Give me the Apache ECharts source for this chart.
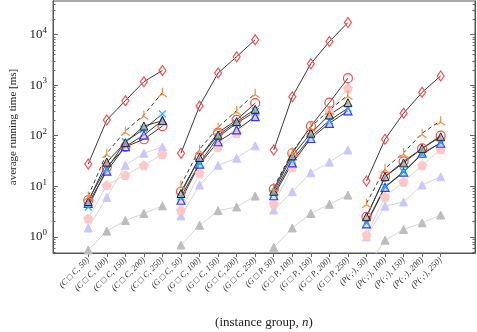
<!DOCTYPE html>
<html>
<head>
<meta charset="utf-8">
<script src="https://cdn.jsdelivr.net/npm/echarts@6/dist/echarts.min.js"></script>
<style>
  html, body { margin: 0; padding: 0; background: #fff; }
  #chart { width: 477px; height: 332px; }
</style>
</head>
<body>
<div id="chart"></div>
<script>
// instance groups and sizes -> 20 categories, 4 groups of 5
const groups = ['C \u25A1 C', 'G \u25A1 C', 'G \u25A1 P', 'P(\u00B7,\u00B7)']
const sizes = [50, 100, 150, 200, 250]
const categories = []
groups.forEach(g => sizes.forEach(n => categories.push('(' + g + ', ' + n + ')')))

// running times [ms], per method, 20 values (group by group)
const redDiamond = [27.5, 204, 493, 1170, 1950, 45, 388, 1730, 3650, 7900, 52, 590, 2650, 7250, 17300, 12.7, 85, 278, 720, 1520]
const orangeStar = [6.4, 45, 124, 257, 712, 10.6, 54, 147, 314, 690, 9.5, 48, 150, 320, 640, 4.6, 22.6, 46, 112, 198]
const blackTri = [5, 30, 73, 155, 198, 7.2, 37, 103, 190, 333, 8, 40, 112, 257, 450, 2.5, 15.5, 29, 56, 95]
const cyanCross = [3.9, 22, 76, 135, 270, 6.2, 28.5, 95, 176, 299, 7.2, 33, 95, 200, 350, 1.9, 9.8, 19.4, 43, 73]
const blueTri = [4.6, 20, 61, 103, 200, 5.3, 27.5, 76, 130, 238, 6.5, 29, 88, 176, 310, 1.8, 9.5, 19, 45, 71]
const redCircle = [5.3, 24, 60, 85, 155, 7.8, 37, 115, 205, 440, 8.8, 45, 155, 450, 1370, 2.5, 15.5, 31, 56, 100]
const pinkPenta = [2.3, 10.5, 16.6, 26, 43, 3.4, 18, 60, 112, 257, 4.5, 23.7, 100, 300, 870, 1.1, 6.2, 12.3, 26, 54]
const lilacTri = [1.5, 6.0, 26, 45, 60, 2.6, 10.6, 26, 36, 63, 3.4, 7.8, 18.5, 30, 52, 1.0, 4.05, 4.9, 10.6, 15.4]
const grayTri = [0.55, 1.3, 2.1, 2.9, 4.1, 0.69, 1.7, 3.3, 3.9, 6.4, 0.62, 1.5, 2.9, 4.4, 6.7, 0.25, 0.86, 1.4, 1.9, 2.7]

const majorTicks = [1, 10, 100, 1000, 10000]
const minorTicks = []
for (let d = -1; d <= 4; d++) {
  for (let k = 2; k <= 9; k++) {
    const v = k * Math.pow(10, d)
    if (v >= 0.48 && v <= 46000) minorTicks.push(v)
  }
}

const serif = 'Liberation Serif'
const darkLine = '#3a3a3a'
const lightLine = '#d6d6d6'

// break the line between groups
function toData (vals) {
  const out = []
  vals.forEach((v, i) => {
    out.push([i, v])
    if (i % 5 === 4 && i < vals.length - 1) out.push([i + 0.5, '-'])
  })
  return out
}

function mk (name, vals, symbol, size, fill, stroke, lineColor, dashed, bw) {
  return {
    name: name,
    type: 'line',
    data: toData(vals),
    symbol: symbol,
    symbolSize: size,
    showAllSymbol: true,
    connectNulls: false,
    itemStyle: { color: fill, borderColor: stroke, borderWidth: bw || 1 },
    lineStyle: { color: lineColor, width: 1, type: dashed ? [4, 3] : 'solid' },
    emphasis: { disabled: true }
  }
}

const pentagon = 'path://M0,-10 L9.51,-3.09 L5.88,8.09 L-5.88,8.09 L-9.51,-3.09 Z'
const triStar = 'path://M0,0 L0,-10 M0,0 L8.66,5 M0,0 L-8.66,5'
const cross = 'path://M-5,-5 L5,5 M-5,5 L5,-5'

const series = [
  mk('gray', grayTri, 'triangle', 8, '#bdbdbd', '#bdbdbd', lightLine),
  mk('lilac', lilacTri, 'triangle', 8, '#c8c8ff', '#c8c8ff', lightLine),
  mk('pink', pinkPenta, pentagon, 9, '#ffc8c8', '#ffc8c8', lightLine),
  mk('redCircle', redCircle, 'circle', 9, 'rgba(255,255,255,0)', '#ff4a4a', darkLine, false, 1.2),
  mk('blueTri', blueTri, 'triangle', 8, 'rgba(200,200,255,0.6)', '#3535ff', darkLine, false, 1.2),
  mk('cyan', cyanCross, cross, 7, 'rgba(255,255,255,0)', '#1ab2ff', darkLine, false, 1.2),
  mk('blackTri', blackTri, 'triangle', 8, 'rgba(170,170,170,0.7)', '#222', darkLine),
  mk('orange', orangeStar, triStar, 9, 'rgba(255,255,255,0)', '#f09040', darkLine, true, 1.2),
  mk('redDiamond', redDiamond, 'diamond', [7, 10], 'rgba(255,255,255,0)', '#ff4a4a', darkLine, false, 1.2)
]

function yAxis (pos, ticks, len, labels) {
  return {
    type: 'log',
    position: pos,
    min: 0.48,
    max: 46000,
    logBase: 10,
    axisLine: { show: true, onZero: false, lineStyle: { color: '#555' } },
    axisTick: { show: true, inside: true, length: len, customValues: ticks, lineStyle: { color: '#666' } },
    axisLabel: labels ? {
      show: true,
      customValues: majorTicks,
      margin: 6,
      formatter: v => '{b|10}{e|' + Math.round(Math.log10(v)) + '}',
      rich: {
        b: { fontSize: 13, fontFamily: serif, color: '#222' },
        e: { fontSize: 9, fontFamily: serif, color: '#222', padding: [0, 0, 8, 0] }
      }
    } : { show: false },
    splitLine: { show: false },
    minorTick: { show: false }
  }
}

const chart = echarts.init(document.getElementById('chart'))
chart.setOption({
  animation: false,
  backgroundColor: '#fff',
  grid: { left: 53, right: 2, top: 1, bottom: 79, outerBoundsMode: 'none', show: true, borderColor: '#555', borderWidth: 1 },
  xAxis: {
    type: 'value',
    min: -1.9,
    max: 20.85,
    name: '{t|(instance group, }{i|n}{t|)}',
    nameLocation: 'middle',
    nameGap: 63,
    nameTextStyle: {
      rich: {
        t: { fontFamily: serif, fontSize: 13, color: '#222' },
        i: { fontFamily: serif, fontSize: 13, fontStyle: 'italic', color: '#222' }
      }
    },
    axisLine: { onZero: false, lineStyle: { color: '#555' } },
    axisTick: { show: true, length: 4, customValues: categories.map((c, i) => i), lineStyle: { color: '#666' } },
    axisLabel: {
      customValues: categories.map((c, i) => i),
      formatter: v => categories[v],
      rotate: 45,
      margin: 6,
      fontFamily: serif,
      fontStyle: 'italic',
      fontSize: 8.5,
      color: '#333'
    },
    splitLine: { show: false }
  },
  yAxis: [
    Object.assign(yAxis('left', majorTicks, 5, true), {
      name: 'average running time [ms]',
      nameLocation: 'middle',
      nameGap: 34,
      nameTextStyle: { fontFamily: serif, fontSize: 11, color: '#222' }
    }),
    yAxis('left', minorTicks, 2.5, false),
    yAxis('right', majorTicks, 5, false),
    yAxis('right', minorTicks, 2.5, false)
  ],
  series: series
})
</script>
</body>
</html>
